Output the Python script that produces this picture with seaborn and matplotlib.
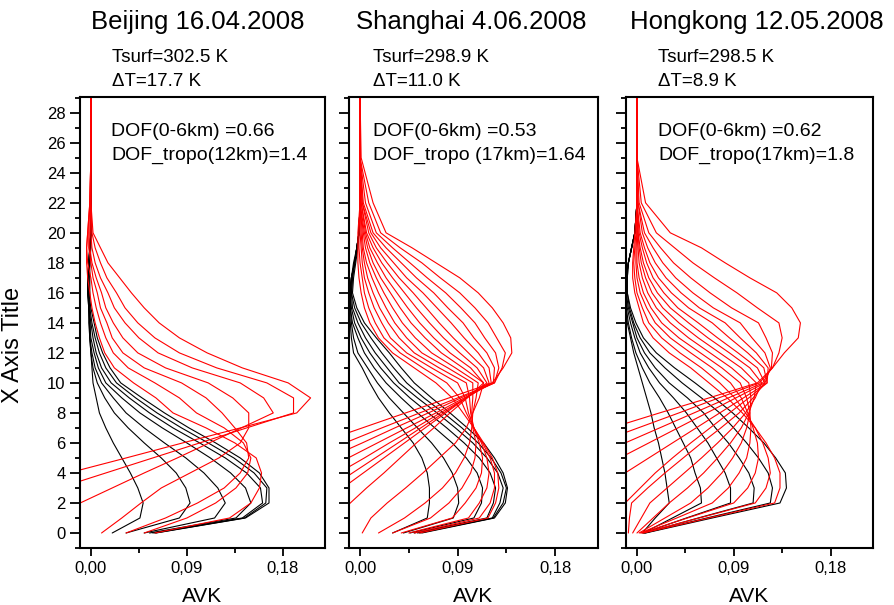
import numpy as np
import pandas as pd
import matplotlib
matplotlib.use("Agg")
import matplotlib.pyplot as plt
import seaborn as sns
from matplotlib.ticker import FixedLocator, MultipleLocator, FuncFormatter

sns.set_theme(style="ticks")
plt.rcParams['font.family'] = ['Liberation Sans', 'DejaVu Sans']
plt.rcParams.update({"text.color": "black", "axes.labelcolor": "black",
                     "xtick.color": "black", "ytick.color": "black",
                     "axes.edgecolor": "black"})

# ---------------- data ----------------
altitude_km = [0, 1, 2, 3, 4, 5, 6, 7, 8, 9, 10, 11, 12, 13, 14, 15, 16, 17, 18, 19, 20, 22, 25, 29]

panel_titles = ["Beijing 16.04.2008", "Shanghai 4.06.2008", "Hongkong 12.05.2008"]
tsurf_labels = ["Tsurf=302.5 K", "Tsurf=298.9 K", "Tsurf=298.5 K"]
dt_labels = ["\u0394T=17.7 K", "\u0394T=11.0 K", "\u0394T=8.9 K"]
dof_labels = ["DOF(0-6km) =0.66", "DOF(0-6km) =0.53", "DOF(0-6km) =0.62"]
dof_tropo_labels = ["DOF_tropo(12km)=1.4", "DOF_tropo (17km)=1.64", "DOF_tropo(17km)=1.8"]
x_tick_values = [0.0, 0.09, 0.18]

# black kernels (one list per curve, values at altitude_km)
beijing_black = [
    [0.020, 0.046, 0.049, 0.044, 0.037, 0.029, 0.021, 0.014, 0.008, 0.005, 0.002, 0.001, 0.0, -0.001, -0.001, -0.001, -0.001, -0.001, -0.001, 0.0, 0.0, 0.0, 0.0, 0.0],
    [0.033, 0.083, 0.093, 0.089, 0.080, 0.066, 0.050, 0.035, 0.022, 0.013, 0.006, 0.002, 0.0, -0.001, -0.001, -0.002, -0.002, -0.002, -0.001, -0.001, 0.0, 0.0, 0.0, 0.0],
    [0.050, 0.116, 0.126, 0.119, 0.106, 0.089, 0.069, 0.050, 0.033, 0.021, 0.010, 0.004, 0.001, -0.001, -0.002, -0.002, -0.002, -0.002, -0.001, -0.001, 0.0, 0.0, 0.0, 0.0],
    [0.055, 0.136, 0.150, 0.145, 0.131, 0.112, 0.090, 0.067, 0.046, 0.029, 0.014, 0.007, 0.003, 0.0, -0.001, -0.002, -0.003, -0.002, -0.002, -0.001, 0.0, 0.0, 0.0, 0.0],
    [0.058, 0.142, 0.161, 0.159, 0.146, 0.126, 0.102, 0.077, 0.055, 0.036, 0.019, 0.010, 0.005, 0.002, 0.0, -0.002, -0.003, -0.003, -0.002, -0.001, 0.0, 0.0, 0.0, 0.0],
    [0.060, 0.144, 0.164, 0.165, 0.153, 0.134, 0.110, 0.085, 0.062, 0.042, 0.024, 0.014, 0.008, 0.004, 0.001, -0.001, -0.003, -0.003, -0.002, -0.001, 0.0, 0.0, 0.0, 0.0],
    [0.061, 0.145, 0.167, 0.167, 0.158, 0.140, 0.117, 0.092, 0.069, 0.048, 0.028, 0.018, 0.011, 0.006, 0.003, 0.0, -0.002, -0.003, -0.002, -0.001, 0.0, 0.0, 0.0, 0.0],
]
shanghai_black = [
    [0.030, 0.062, 0.064, 0.064, 0.062, 0.057, 0.049, 0.038, 0.027, 0.017, 0.009, 0.002, -0.006, -0.008, -0.009, -0.010, -0.010, -0.008, -0.006, -0.003, -0.001, 0.0, 0.0, 0.0],
    [0.040, 0.086, 0.091, 0.090, 0.085, 0.077, 0.066, 0.053, 0.040, 0.027, 0.016, 0.007, -0.002, -0.006, -0.008, -0.009, -0.009, -0.008, -0.005, -0.003, -0.001, 0.0, 0.0, 0.0],
    [0.046, 0.105, 0.112, 0.113, 0.108, 0.098, 0.085, 0.069, 0.053, 0.038, 0.024, 0.013, 0.004, -0.002, -0.007, -0.009, -0.009, -0.008, -0.005, -0.003, -0.001, 0.0, 0.0, 0.0],
    [0.050, 0.117, 0.123, 0.125, 0.120, 0.110, 0.096, 0.080, 0.063, 0.046, 0.031, 0.019, 0.009, 0.001, -0.005, -0.008, -0.009, -0.008, -0.005, -0.003, -0.001, 0.0, 0.0, 0.0],
    [0.053, 0.122, 0.129, 0.132, 0.127, 0.117, 0.104, 0.088, 0.071, 0.053, 0.036, 0.025, 0.014, 0.005, -0.002, -0.007, -0.008, -0.007, -0.005, -0.003, -0.001, 0.0, 0.0, 0.0],
    [0.055, 0.123, 0.132, 0.135, 0.130, 0.121, 0.109, 0.094, 0.077, 0.059, 0.043, 0.031, 0.020, 0.010, 0.001, -0.005, -0.008, -0.007, -0.005, -0.003, -0.001, 0.0, 0.0, 0.0],
    [0.057, 0.124, 0.134, 0.136, 0.132, 0.124, 0.114, 0.099, 0.083, 0.066, 0.050, 0.038, 0.027, 0.015, 0.004, -0.003, -0.007, -0.006, -0.004, -0.002, -0.001, 0.0, 0.0, 0.0],
]
hongkong_black = [
    [0.005, 0.017, 0.030, 0.028, 0.026, 0.023, 0.020, 0.016, 0.013, 0.009, 0.005, 0.001, -0.003, -0.006, -0.009, -0.010, -0.011, -0.010, -0.008, -0.005, -0.002, 0.0, 0.0, 0.0],
    [0.006, 0.033, 0.060, 0.059, 0.054, 0.050, 0.043, 0.036, 0.029, 0.021, 0.012, 0.005, -0.001, -0.005, -0.008, -0.010, -0.011, -0.010, -0.008, -0.005, -0.002, 0.0, 0.0, 0.0],
    [0.006, 0.046, 0.087, 0.087, 0.082, 0.074, 0.066, 0.056, 0.046, 0.034, 0.021, 0.011, 0.003, -0.002, -0.006, -0.009, -0.010, -0.010, -0.008, -0.005, -0.002, 0.0, 0.0, 0.0],
    [0.007, 0.057, 0.108, 0.109, 0.104, 0.095, 0.085, 0.073, 0.062, 0.047, 0.030, 0.017, 0.007, 0.0, -0.004, -0.008, -0.010, -0.010, -0.008, -0.005, -0.002, 0.0, 0.0, 0.0],
    [0.007, 0.065, 0.124, 0.126, 0.122, 0.113, 0.102, 0.090, 0.077, 0.060, 0.042, 0.026, 0.012, 0.003, -0.003, -0.007, -0.009, -0.009, -0.008, -0.005, -0.002, 0.0, 0.0, 0.0],
    [0.008, 0.070, 0.133, 0.139, 0.138, 0.129, 0.118, 0.104, 0.089, 0.072, 0.054, 0.035, 0.018, 0.006, -0.001, -0.006, -0.009, -0.009, -0.008, -0.005, -0.002, 0.0, 0.0, 0.0],
]

# red kernels (one row per altitude level, one column per curve)
beijing_red = [
    [0.060, 0.050, 0.033, 0.010, -0.070, -0.160, -0.235],
    [0.130, 0.090, 0.070, 0.029, -0.040, -0.118, -0.180],
    [0.150, 0.117, 0.100, 0.047, -0.010, -0.074, -0.128],
    [0.158, 0.136, 0.125, 0.066, 0.020, -0.030, -0.074],
    [0.160, 0.147, 0.140, 0.093, 0.050, 0.014, -0.021],
    [0.155, 0.150, 0.148, 0.120, 0.081, 0.058, 0.033],
    [0.135, 0.143, 0.146, 0.140, 0.111, 0.102, 0.086],
    [0.108, 0.125, 0.135, 0.148, 0.141, 0.146, 0.140],
    [0.077, 0.099, 0.123, 0.148, 0.171, 0.190, 0.193],
    [0.061, 0.083, 0.108, 0.133, 0.162, 0.190, 0.206],
    [0.040, 0.060, 0.085, 0.110, 0.140, 0.165, 0.185],
    [0.022, 0.035, 0.050, 0.070, 0.095, 0.118, 0.142],
    [0.013, 0.021, 0.030, 0.044, 0.063, 0.083, 0.109],
    [0.008, 0.014, 0.020, 0.030, 0.045, 0.060, 0.083],
    [0.004, 0.009, 0.015, 0.021, 0.032, 0.044, 0.064],
    [0.001, 0.005, 0.009, 0.014, 0.022, 0.032, 0.050],
    [-0.001, 0.002, 0.006, 0.010, 0.016, 0.024, 0.038],
    [-0.003, 0.000, 0.002, 0.005, 0.009, 0.015, 0.027],
    [-0.004, -0.003, 0.000, 0.001, 0.004, 0.009, 0.016],
    [-0.004, -0.004, -0.002, -0.001, 0.001, 0.004, 0.009],
    [-0.003, -0.003, -0.002, -0.001, 0.000, 0.001, 0.002],
    [-0.001, -0.001, -0.001, 0.000, 0.000, 0.000, 0.000],
    [0.000, 0.000, 0.000, 0.000, 0.000, 0.000, 0.000],
    [0.000, 0.000, 0.000, 0.000, 0.000, 0.000, 0.000],
]
shanghai_red = [
    [0.055, 0.050, 0.045, 0.038, 0.030, 0.017, 0.002, -0.040, -0.073, -0.091, -0.114, -0.144, -0.182, -0.221, -0.279],
    [0.118, 0.110, 0.100, 0.085, 0.065, 0.041, 0.010, -0.025, -0.054, -0.070, -0.090, -0.117, -0.151, -0.187, -0.239],
    [0.125, 0.120, 0.110, 0.097, 0.082, 0.060, 0.025, -0.009, -0.035, -0.049, -0.067, -0.091, -0.120, -0.152, -0.199],
    [0.128, 0.124, 0.117, 0.107, 0.094, 0.076, 0.042, 0.006, -0.016, -0.028, -0.043, -0.064, -0.090, -0.118, -0.159],
    [0.127, 0.124, 0.119, 0.112, 0.102, 0.088, 0.058, 0.022, 0.003, -0.007, -0.020, -0.037, -0.060, -0.083, -0.118],
    [0.122, 0.120, 0.117, 0.113, 0.106, 0.096, 0.073, 0.037, 0.022, 0.014, 0.004, -0.011, -0.029, -0.049, -0.078],
    [0.114, 0.113, 0.112, 0.110, 0.107, 0.101, 0.088, 0.052, 0.041, 0.035, 0.027, 0.016, 0.002, -0.014, -0.038],
    [0.105, 0.105, 0.105, 0.105, 0.104, 0.103, 0.098, 0.068, 0.060, 0.056, 0.051, 0.043, 0.032, 0.020, 0.002],
    [0.095, 0.098, 0.100, 0.102, 0.103, 0.104, 0.104, 0.083, 0.079, 0.077, 0.074, 0.070, 0.063, 0.055, 0.042],
    [0.085, 0.092, 0.097, 0.101, 0.104, 0.107, 0.110, 0.099, 0.098, 0.098, 0.098, 0.096, 0.093, 0.090, 0.082],
    [0.070, 0.080, 0.090, 0.098, 0.104, 0.109, 0.114, 0.114, 0.117, 0.119, 0.121, 0.123, 0.124, 0.124, 0.122],
    [0.050, 0.058, 0.066, 0.073, 0.081, 0.088, 0.095, 0.102, 0.108, 0.114, 0.119, 0.124, 0.128, 0.131, 0.132],
    [0.030, 0.037, 0.043, 0.050, 0.057, 0.066, 0.075, 0.083, 0.092, 0.100, 0.109, 0.117, 0.125, 0.134, 0.140],
    [0.017, 0.022, 0.028, 0.036, 0.043, 0.051, 0.060, 0.068, 0.077, 0.086, 0.096, 0.105, 0.115, 0.126, 0.139],
    [0.009, 0.014, 0.020, 0.026, 0.032, 0.039, 0.047, 0.055, 0.064, 0.073, 0.084, 0.095, 0.106, 0.118, 0.132],
    [0.004, 0.008, 0.013, 0.018, 0.024, 0.030, 0.037, 0.044, 0.052, 0.061, 0.071, 0.081, 0.093, 0.106, 0.122],
    [0.001, 0.004, 0.008, 0.012, 0.017, 0.022, 0.028, 0.034, 0.041, 0.049, 0.058, 0.068, 0.079, 0.092, 0.109],
    [-0.001, 0.002, 0.004, 0.007, 0.011, 0.015, 0.019, 0.024, 0.030, 0.036, 0.043, 0.052, 0.062, 0.074, 0.092],
    [-0.002, 0.000, 0.002, 0.004, 0.006, 0.009, 0.012, 0.016, 0.020, 0.025, 0.031, 0.038, 0.046, 0.057, 0.070],
    [-0.002, -0.001, 0.001, 0.002, 0.003, 0.005, 0.007, 0.009, 0.012, 0.015, 0.019, 0.024, 0.030, 0.037, 0.048],
    [-0.002, -0.001, 0.000, 0.001, 0.002, 0.003, 0.004, 0.005, 0.006, 0.008, 0.010, 0.012, 0.015, 0.019, 0.024],
    [0.000, 0.000, 0.000, 0.000, 0.000, 0.000, 0.000, 0.001, 0.001, 0.002, 0.002, 0.003, 0.005, 0.008, 0.012],
    [0.000, 0.000, 0.000, 0.000, 0.000, 0.000, 0.000, 0.000, 0.000, 0.000, 0.000, 0.000, 0.000, 0.000, 0.001],
    [0.000, 0.000, 0.000, 0.000, 0.000, 0.000, 0.000, 0.000, 0.000, 0.000, 0.000, 0.000, 0.000, 0.000, 0.000],
]
hongkong_red = [
    [0.006, 0.005, 0.004, 0.003, 0.002, 0.000, -0.004, -0.008, -0.044, -0.098, -0.151, -0.202, -0.263, -0.342],
    [0.067, 0.058, 0.047, 0.037, 0.026, 0.015, 0.004, -0.007, -0.027, -0.076, -0.124, -0.170, -0.226, -0.297],
    [0.128, 0.110, 0.090, 0.070, 0.050, 0.030, 0.012, -0.005, -0.011, -0.054, -0.097, -0.138, -0.188, -0.251],
    [0.133, 0.120, 0.103, 0.085, 0.066, 0.047, 0.028, 0.010, 0.003, -0.032, -0.070, -0.106, -0.150, -0.206],
    [0.133, 0.124, 0.110, 0.095, 0.079, 0.062, 0.044, 0.026, 0.017, -0.011, -0.043, -0.074, -0.112, -0.160],
    [0.128, 0.122, 0.113, 0.102, 0.089, 0.075, 0.060, 0.043, 0.033, 0.011, -0.016, -0.042, -0.074, -0.115],
    [0.120, 0.117, 0.112, 0.105, 0.097, 0.087, 0.075, 0.060, 0.050, 0.033, 0.011, -0.011, -0.037, -0.070],
    [0.110, 0.110, 0.108, 0.106, 0.102, 0.097, 0.089, 0.078, 0.068, 0.055, 0.038, 0.021, 0.001, -0.024],
    [0.098, 0.101, 0.103, 0.105, 0.105, 0.104, 0.101, 0.095, 0.086, 0.077, 0.065, 0.053, 0.039, 0.021],
    [0.084, 0.091, 0.097, 0.102, 0.106, 0.109, 0.110, 0.108, 0.104, 0.099, 0.092, 0.085, 0.076, 0.067],
    [0.067, 0.077, 0.087, 0.096, 0.104, 0.111, 0.116, 0.119, 0.121, 0.121, 0.119, 0.117, 0.114, 0.112],
    [0.050, 0.060, 0.070, 0.079, 0.088, 0.097, 0.105, 0.112, 0.118, 0.122, 0.124, 0.125, 0.126, 0.126],
    [0.030, 0.040, 0.050, 0.059, 0.068, 0.077, 0.086, 0.094, 0.103, 0.111, 0.119, 0.126, 0.132, 0.137],
    [0.015, 0.023, 0.031, 0.039, 0.048, 0.057, 0.066, 0.075, 0.086, 0.096, 0.107, 0.120, 0.135, 0.150],
    [0.006, 0.011, 0.017, 0.023, 0.031, 0.039, 0.048, 0.057, 0.070, 0.082, 0.096, 0.113, 0.132, 0.152],
    [0.002, 0.005, 0.009, 0.013, 0.018, 0.024, 0.031, 0.038, 0.048, 0.058, 0.071, 0.088, 0.112, 0.144],
    [-0.002, 0.000, 0.003, 0.006, 0.010, 0.014, 0.019, 0.025, 0.032, 0.041, 0.052, 0.068, 0.093, 0.130],
    [-0.004, -0.002, 0.000, 0.002, 0.005, 0.008, 0.011, 0.015, 0.020, 0.027, 0.036, 0.050, 0.072, 0.105],
    [-0.004, -0.003, -0.001, 0.000, 0.002, 0.004, 0.006, 0.009, 0.012, 0.017, 0.024, 0.034, 0.052, 0.082],
    [-0.003, -0.002, -0.001, 0.000, 0.001, 0.002, 0.003, 0.005, 0.007, 0.010, 0.015, 0.022, 0.035, 0.060],
    [-0.002, -0.001, 0.000, 0.000, 0.000, 0.001, 0.001, 0.002, 0.003, 0.005, 0.007, 0.011, 0.018, 0.031],
    [0.000, 0.000, 0.000, 0.000, 0.000, 0.000, 0.000, 0.000, 0.000, 0.001, 0.001, 0.002, 0.004, 0.008],
    [0.000, 0.000, 0.000, 0.000, 0.000, 0.000, 0.000, 0.000, 0.000, 0.000, 0.000, 0.000, 0.000, 0.000],
    [0.000, 0.000, 0.000, 0.000, 0.000, 0.000, 0.000, 0.000, 0.000, 0.000, 0.000, 0.000, 0.000, 0.000],
]

# ---------------- long table ----------------
rows = []
panels = [(beijing_black, beijing_red), (shanghai_black, shanghai_red), (hongkong_black, hongkong_red)]
for p, (blk, red) in enumerate(panels):
    for i, curve in enumerate(blk):
        for z, v in zip(altitude_km, curve):
            rows.append((p, "black", f"b{i}", v, z))
    red_curves = np.array(red).T
    for i, curve in enumerate(red_curves):
        for z, v in zip(altitude_km, curve):
            rows.append((p, "red", f"r{i}", v, z))
df = pd.DataFrame(rows, columns=["panel", "group", "curve", "avk", "alt"])

# ---------------- figure ----------------
W, H = 895, 605
fig = plt.figure(figsize=(W / 100, H / 100), dpi=100)
frames = [(80, 325), (349, 598), (626, 873)]   # left/right in pixels
top_px, bot_px = 97, 548

def fx(px):
    return px / W

def fy(py):
    return 1 - py / H

axes = []
for p, (l, r) in enumerate(frames):
    ax = fig.add_axes([fx(l), fy(bot_px), (r - l) / W, (bot_px - top_px) / H])
    sub = df[df.panel == p]
    sns.lineplot(data=sub, x="avk", y="alt", hue="group", units="curve",
                 estimator=None, sort=False, hue_order=["black", "red"],
                 palette={"black": "black", "red": "red"}, linewidth=0.8,
                 legend=False, ax=ax)
    ax.set_xlim(-0.0102, 0.2195)
    ax.set_ylim(-1.0, 29.05)
    ax.xaxis.set_major_locator(FixedLocator(x_tick_values))
    ax.xaxis.set_minor_locator(FixedLocator([0.045, 0.135]))
    ax.xaxis.set_major_formatter(FuncFormatter(lambda v, _: f"{v:.2f}".replace(".", ",")))
    ax.yaxis.set_major_locator(MultipleLocator(2))
    ax.yaxis.set_minor_locator(MultipleLocator(1))
    ax.tick_params(axis="both", which="major", direction="out", width=1.3, labelsize=12,
                   colors="black", top=False, right=False)
    ax.tick_params(axis="y", which="major", length=7.5, pad=3)
    ax.tick_params(axis="x", which="major", length=5.5, pad=4)
    ax.tick_params(axis="both", which="minor", direction="out", width=1.3, length=3.5,
                   colors="black", top=False, right=False)
    for s in ax.spines.values():
        s.set_linewidth(1.5)
        s.set_color("black")
    ax.set_xlabel("AVK", fontsize=15, color="black")
    ax.xaxis.set_label_coords(0.5, -0.087)
    if p == 0:
        ax.set_ylabel("X Axis Title", fontsize=17, color="black")
        ax.yaxis.set_label_coords(-0.23, 0.45)
    else:
        ax.set_ylabel("")
        ax.tick_params(axis="y", labelleft=False)
    ax.grid(False)
    axes.append(ax)

title_centers = [198, 471, 757]
text_lefts = [112, 373, 658]
dof_lefts = [111, 373, 658]
for p in range(3):
    fig.text(fx(title_centers[p]), fy(22), panel_titles[p], ha="center", va="center",
             fontsize=18.5, color="black")
    fig.text(fx(text_lefts[p]), fy(57), tsurf_labels[p], ha="left", va="center",
             fontsize=13.5, color="black")
    fig.text(fx(text_lefts[p]), fy(82), dt_labels[p], ha="left", va="center",
             fontsize=13.5, color="black")
    fig.text(fx(dof_lefts[p]), fy(131), dof_labels[p], ha="left", va="center",
             fontsize=14, color="black")
    fig.text(fx(dof_lefts[p]), fy(155), dof_tropo_labels[p], ha="left", va="center",
             fontsize=14, color="black")

fig.savefig("out.png", dpi=100, facecolor="white")
